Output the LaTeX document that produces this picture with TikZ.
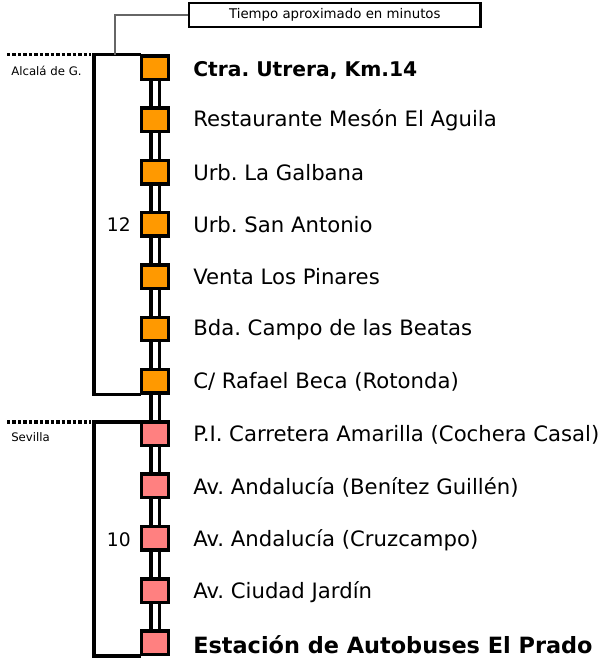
\documentclass[tikz,border=0pt]{standalone}
\usepackage{fontspec}
\setmainfont{DejaVu Sans}
\begin{document}
\frenchspacing
\begin{tikzpicture}[x=0.75pt,y=-0.75pt,
  stopbox/.style={draw=black,line width=2.6pt,minimum width=20pt,minimum height=17.6pt,inner sep=0pt},
  orange/.style={stopbox,fill={rgb,255:red,255;green,153;blue,0}},
  pink/.style={stopbox,fill={rgb,255:red,255;green,128;blue,128}},
  lbl/.style={anchor=west,inner sep=0pt,font=\fontsize{15.9}{19}\selectfont},
  blbl/.style={anchor=west,inner sep=0pt,font=\fontsize{#1}{19}\selectfont\bfseries},
  small/.style={anchor=west,inner sep=0pt,font=\fontsize{8.8}{10}\selectfont},
  bracket/.style={line width=2.3pt,line cap=rect},
  dots/.style={line width=2.3pt,dash pattern=on 2.6pt off 1.5pt},
  rail/.style={line width=2.6pt},
  num/.style={anchor=east,inner sep=0pt,font=\fontsize{14}{16}\selectfont}
]
\useasboundingbox (0,0) rectangle (608,662);
% rail (double line) behind boxes
\draw[rail] (151,68) -- (151,643);
\draw[rail] (159.5,68) -- (159.5,643);
% stops
\foreach \i in {0,...,6}{
  \node[orange] (s\i) at (155,67.5+52.3*\i) {};
}
\foreach \i in {7,...,11}{
  \node[pink] (s\i) at (155,67.5+52.3*\i) {};
}
\node[blbl=15.2] (l0) at (193,70) {Ctra. Utrera, Km.14};
\node[lbl] (l1) at (193,120) {Restaurante Mesón El Aguila};
\node[lbl] (l2) at (193,172.5) {Urb. La Galbana};
\node[lbl] (l3) at (193,225) {Urb. San Antonio};
\node[lbl] (l4) at (193,277) {Venta Los Pinares};
\node[lbl] (l5) at (193,329.5) {Bda. Campo de las Beatas};
\node[lbl] (l6) at (193,381.5) {C/ Rafael Beca (Rotonda)};
\node[lbl] (l7) at (193,434.5) {P.I. Carretera Amarilla (Cochera Casal)};
\node[lbl] (l8) at (193,487) {Av. Andalucía (Benítez Guillén)};
\node[lbl] (l9) at (193,540) {Av. Andalucía (Cruzcampo)};
\node[lbl] (l10) at (193,592) {Av. Ciudad Jardín};
\node[blbl=16.8] (l11) at (193,645) {Estación de Autobuses El Prado};
% brackets
\coordinate (a1) at (94,54.5);
\coordinate (a2) at (94,394.5);
\draw[bracket] (s0.west |- a1) -- (a1) -- (a2) -- (s6.west |- a2);
\coordinate (b1) at (94,422);
\coordinate (b2) at (94,656);
\draw[bracket] (s7.west |- b1) -- (b1) -- (b2) -- (s11.west |- b2);
% dotted boundaries
\coordinate (d1) at (7,54.5);
\coordinate (d2) at (91,54.5);
\draw[dots] (d1) -- (d2);
\coordinate (e1) at (7,422);
\coordinate (e2) at (91,422);
\draw[dots] (e1) -- (e2);
\node[small] (alc) at (11,71) {Alcalá de G.};
\node[small] (sev) at (11,437) {Sevilla};
% times
\node[num] (t12) at (131,225) {12};
\node[num] (t10) at (131,540) {10};
% legend
\node[draw=black,line width=1.6pt,anchor=west,minimum height=18pt,inner xsep=30pt,inner ysep=0pt,font=\fontsize{10}{12}\selectfont] (leg) at (188,15) {Tiempo aproximado en minutos};
\coordinate (g1) at (115,54.5);
\draw[gray!80!black,line width=1.1pt] (g1) |- (leg.west);
\end{tikzpicture}
\end{document}
